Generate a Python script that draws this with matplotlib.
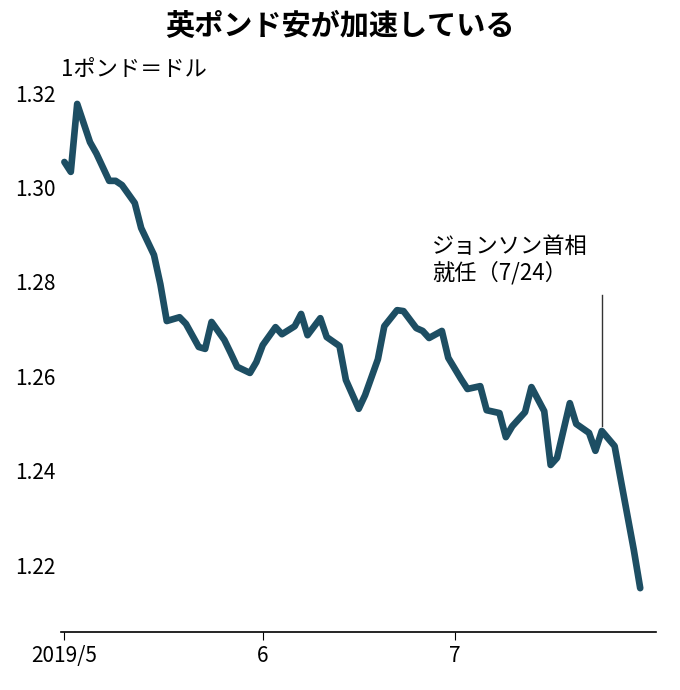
import matplotlib
matplotlib.use("Agg")
import matplotlib.pyplot as plt
import pandas as pd

plt.rcParams['font.family'] = ['Noto Sans CJK JP', 'DejaVu Sans']

may_days = [1,2,3,5,6,8,9,10,12,13,15,16,17,19,20,22,23,24,26,27,28,30,31]
jun_days = [1,3,4,6,7,8,10,11,13,14,16,17,19,20,22,23,25,26,27,29,30]
jul_days = [2,3,5,6,8,9,10,12,13,15,16,17,19,20,22,23,24,26,27,29,30]
may_vals = [1.3054,1.3033,1.3177,1.3096,1.3072,1.3014,1.3014,1.3005,1.2967,1.2914,1.2857,1.2795,
            1.2717,1.2725,1.2711,1.2662,1.2658,1.2715,1.2677,1.2649,1.2620,1.2607,1.2630]
jun_vals = [1.2666,1.2704,1.2689,1.2706,1.2732,1.2687,1.2723,1.2683,1.2664,1.2592,1.2531,1.2560,
            1.2636,1.2706,1.2740,1.2738,1.2702,1.2696,1.2681,1.2696,1.2639]
jul_vals = [1.2594,1.2573,1.2579,1.2528,1.2522,1.2471,1.2494,1.2524,1.2577,1.2526,1.2412,1.2427,
            1.2543,1.2499,1.2480,1.2442,1.2484,1.2452,1.2378,1.2232,1.2151]

dates = ([pd.Timestamp(2019,5,d) for d in may_days] + [pd.Timestamp(2019,6,d) for d in jun_days]
         + [pd.Timestamp(2019,7,d) for d in jul_days])
vals = may_vals + jun_vals + jul_vals

yticks = [1.22, 1.24, 1.26, 1.28, 1.30, 1.32]
xticks = [pd.Timestamp(2019,5,1), pd.Timestamp(2019,6,1), pd.Timestamp(2019,7,1)]
xlabels = ["2019/5", "6", "7"]

fig = plt.figure(figsize=(6.8, 6.9), dpi=100)
ax = fig.add_axes([0.09, 0.084, 0.875, 0.829])
ax.plot(dates, vals, color="#1d4e63", lw=4.8, solid_joinstyle="round", solid_capstyle="round")
ax.set_ylim(1.2058, 1.327)
ax.set_xlim(pd.Timestamp(2019,4,30,12), pd.Timestamp(2019,8,1,12))
ax.set_yticks(yticks)
ax.set_yticklabels([f"{v:.2f}" for v in yticks], fontsize=15)
ax.set_xticks(xticks)
ax.set_xticklabels(xlabels, fontsize=15)
for s in ["top", "right", "left"]:
    ax.spines[s].set_visible(False)
ax.spines["bottom"].set_linewidth(1.2)
ax.tick_params(axis="y", length=0, pad=4)
ax.tick_params(axis="x", length=6, direction="out")

jd = pd.Timestamp(2019,7,24)
ax.plot([jd, jd], [1.2495, 1.2772], color="#333333", lw=1)
ax.text(pd.Timestamp(2019,6,27,12), 1.2795, "ジョンソン首相\n就任（7/24）", fontsize=16, va="bottom", ha="left", linespacing=1.15)
ax.text(pd.Timestamp(2019,4,30,12), 1.3249, "1ポンド＝ドル", fontsize=16, va="center", ha="left")
fig.text(0.5, 0.963, "英ポンド安が加速している", fontsize=21, fontweight="bold", ha="center", va="center")
fig.savefig("out.png", dpi=100)
